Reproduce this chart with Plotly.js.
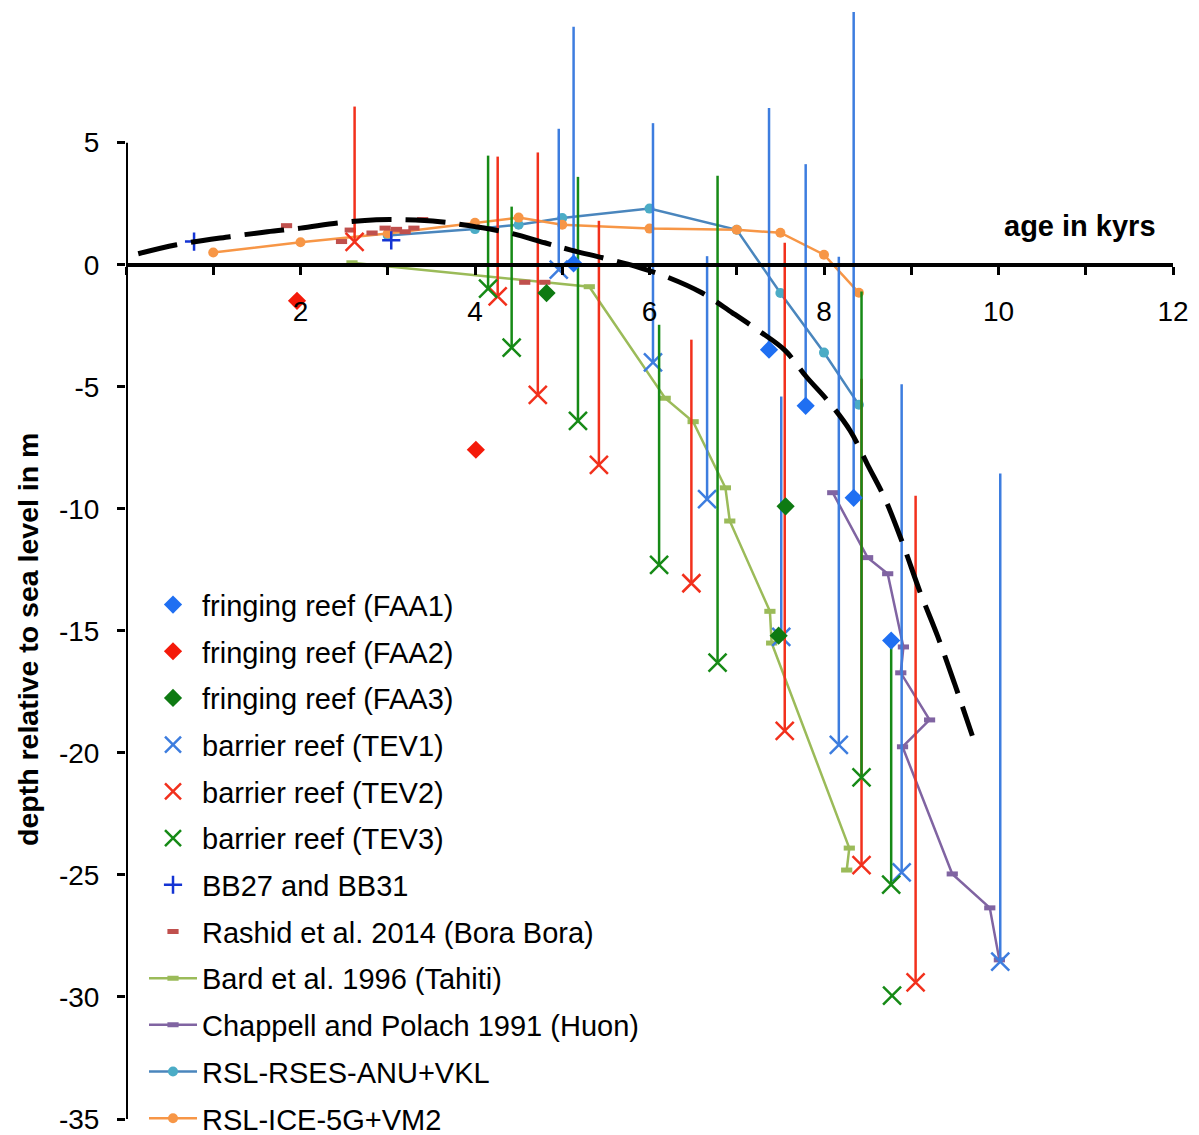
<!DOCTYPE html>
<html><head><meta charset="utf-8">
<script src="https://cdn.plot.ly/plotly-3.0.1.min.js"></script>
<style>html,body{margin:0;padding:0;background:#fff}#chart{width:1199px;height:1135px}</style>
</head><body><div id="chart"></div>
<script>
// ---------- data ----------
const faa1X = [5.13, 7.37, 7.79, 8.34, 8.77];
const faa1Y = [0.05, -3.48, -5.78, -9.55, -15.4];
const faa1Err = [9.7, 9.9, 9.9, 19.9, 0];

const faa2X = [1.96, 4.01];
const faa2Y = [-1.48, -7.58];

const faa3X = [4.82, 7.56, 7.48];
const faa3Y = [-1.16, -9.9, -15.2];

const tev1X = [4.96, 6.04, 6.66, 7.51, 8.17, 8.89, 10.02];
const tev1Y = [-0.2, -4.0, -9.6, -15.25, -19.67, -24.9, -28.55];
const tev1Err = [5.77, 9.8, 9.95, 9.85, 20.0, 20.0, 20.0];

const tev2X = [2.62, 4.26, 4.72, 5.42, 6.48, 7.55, 8.43, 9.05];
const tev2Y = [0.94, -1.3, -5.33, -8.2, -13.05, -19.1, -24.6, -29.4];
const tev2Err = [5.54, 5.73, 9.93, 10.0, 9.98, 20.0, 19.93, 19.93];

const tev3X = [4.15, 4.42, 5.18, 6.11, 6.78, 8.43, 8.77, 8.78];
const tev3Y = [-0.98, -3.4, -6.4, -12.3, -16.3, -21.0, -25.4, -29.95];
const tev3Err = [5.45, 5.78, 10.0, 9.84, 19.95, 19.9, 10.0, 0];

const bbX = [0.78, 3.04];
const bbY = [0.95, 1.0];

const rashidX = [1.84, 2.47, 2.57, 2.82, 2.97, 3.1, 3.2, 3.3, 3.4, 4.57, 4.8];
const rashidY = [1.6, 0.95, 1.42, 1.3, 1.5, 1.45, 1.35, 1.5, 1.85, -0.72, -0.72];

const bardX = [2.59, 5.31, 6.18, 6.5, 6.87, 6.92, 7.38, 7.4, 8.29, 8.26];
const bardY = [0.08, -0.9, -5.47, -6.43, -9.14, -10.5, -14.2, -15.5, -23.9, -24.8];

const chapX = [8.10, 8.50, 8.73, 8.91, 8.88, 9.21, 8.90, 9.47, 9.90, 10.01];
const chapY = [-9.34, -12.0, -12.66, -15.66, -16.72, -18.65, -19.75, -24.96, -26.35, -28.48];

const anuX = [3.0, 4.0, 4.5, 5.0, 6.0, 7.0, 7.5, 8.0, 8.4];
const anuY = [1.2, 1.46, 1.64, 1.91, 2.3, 1.43, -1.16, -3.6, -5.74];

const iceX = [1.0, 2.0, 3.0, 4.0, 4.5, 5.0, 6.0, 7.0, 7.5, 8.0, 8.4];
const iceY = [0.5, 0.92, 1.28, 1.72, 1.93, 1.64, 1.48, 1.43, 1.31, 0.41, -1.15];

const fitX = [0.14, 0.58, 1.19, 1.62, 2.0, 2.45, 2.87, 3.2, 3.6, 4.0, 4.4, 4.8, 5.1, 5.5, 5.85, 6.2, 6.6, 6.95, 7.25, 7.55, 7.8, 8.05, 8.3, 8.5, 8.7, 8.9, 9.1, 9.3, 9.5, 9.7];
const fitY = [0.45, 0.82, 1.15, 1.35, 1.5, 1.72, 1.84, 1.84, 1.76, 1.56, 1.3, 0.9, 0.6, 0.25, -0.08, -0.5, -1.15, -1.97, -2.7, -3.5, -4.6, -5.6, -6.8, -8.2, -9.6, -11.4, -13.4, -15.2, -17.2, -19.3];

const xTickVals = [0,1,2,3,4,5,6,7,8,9,10,11,12];
const xTickText = ['','','2','','4','','6','','8','','10','','12'];
const yTickVals = [5,0,-5,-10,-15,-20,-25,-30,-35];
const yTickText = ['5','0','-5','-10','-15','-20','-25','-30','-35'];

// ---------- traces ----------
const FONT = 'Liberation Sans, Arial, Helvetica, sans-serif';
const zeros = a => a.map(() => 0);

function errSeries(name, x, y, err, color, rank) {
  return {
    type: 'scatter', mode: 'markers', name, x, y, legendrank: rank, legendgroup: 'g' + rank,
    marker: {symbol: 'x-thin-open', size: 18, color, line: {width: 2.5, color}},
    error_y: {type: 'data', symmetric: false, array: err, arrayminus: zeros(err), width: 0, thickness: 2.5, color}
  };
}

const traces = [
  {type:'scatter', mode:'lines+markers', name:'RSL-RSES-ANU+VKL', x:anuX, y:anuY, legendrank:11, legendgroup:'g11',
   line:{color:'#4a86bd', width:2.5}, marker:{symbol:'circle', size:10, color:'#4bacc6'}},
  {type:'scatter', mode:'lines+markers', name:'RSL-ICE-5G+VM2', x:iceX, y:iceY, legendrank:12, legendgroup:'g12',
   line:{color:'#f79646', width:2.5}, marker:{symbol:'circle', size:10, color:'#f79646'}},
  {type:'scatter', mode:'lines+markers', name:'Bard et al. 1996 (Tahiti)', x:bardX, y:bardY, legendrank:9, legendgroup:'g9',
   line:{color:'#9bbb59', width:2.5}, marker:{symbol:'line-ew', size:8, color:'#9bbb59', line:{width:5, color:'#9bbb59'}}},
  {type:'scatter', mode:'lines+markers', name:'Chappell and Polach 1991 (Huon)', x:chapX, y:chapY, legendrank:10, legendgroup:'g10',
   line:{color:'#8064a2', width:2.5}, marker:{symbol:'line-ew', size:8, color:'#8064a2', line:{width:5, color:'#8064a2'}}},
  {type:'scatter', mode:'markers', name:'Rashid et al. 2014 (Bora Bora)', x:rashidX, y:rashidY, legendrank:8, legendgroup:'g8',
   marker:{symbol:'line-ew', size:8, color:'#c0504d', line:{width:5, color:'#c0504d'}}},
  {type:'scatter', mode:'markers', name:'BB27 and BB31', x:bbX, y:bbY, legendrank:7, legendgroup:'g7',
   marker:{symbol:'cross-thin-open', size:13, color:'#1434d4', line:{width:2.5, color:'#1434d4'}}},
  errSeries('barrier reef (TEV1)', tev1X, tev1Y, tev1Err, '#3d7ddf', 4),
  errSeries('barrier reef (TEV2)', tev2X, tev2Y, tev2Err, '#f2301c', 5),
  errSeries('barrier reef (TEV3)', tev3X, tev3Y, tev3Err, '#168a16', 6),
  {type:'scatter', mode:'markers', name:'fringing reef (FAA1)', x:faa1X, y:faa1Y, legendrank:1, legendgroup:'g1',
   marker:{symbol:'diamond', size:14, color:'#1f6ff2'},
   error_y:{type:'data', symmetric:false, array:faa1Err, arrayminus:zeros(faa1Err), width:0, thickness:2.5, color:'#3d7ddf'}},
  {type:'scatter', mode:'markers', name:'fringing reef (FAA2)', x:faa2X, y:faa2Y, legendrank:2, legendgroup:'g2',
   marker:{symbol:'diamond', size:14, color:'#f41a0a'}},
  {type:'scatter', mode:'markers', name:'fringing reef (FAA3)', x:faa3X, y:faa3Y, legendrank:3, legendgroup:'g3',
   marker:{symbol:'diamond', size:14, color:'#0e7a12'}},
  {type:'scatter', mode:'lines', name:'fit', x:fitX, y:fitY, showlegend:false,
   line:{color:'black', width:5, dash:'40px,14px', shape:'spline', smoothing:1}}
];

const yMin = -35, yMax = 10.6;
const layout = {
  width: 1199, height: 1135,
  margin: {l:126, r:26, t:6, b:16, autoexpand: false},
  paper_bgcolor: 'white', plot_bgcolor: 'white',
  font: {family: FONT, size: 28, color: 'black'},
  showlegend: true,
  xaxis: {
    range: [0, 12], anchor: 'free', position: (0 - yMin) / (yMax - yMin), side: 'bottom',
    showline: true, linecolor: 'black', linewidth: 4,
    ticks: 'outside', ticklen: 8, tickwidth: 3, tickcolor: 'black',
    tickmode: 'array', tickvals: xTickVals, ticktext: xTickText, ticklabelstandoff: 13,
    showgrid: false, zeroline: false, automargin: false, tickfont: {size: 28}
  },
  yaxis: {
    range: [yMin, yMax], showline: false,
    ticks: 'outside', ticklen: 8, tickwidth: 3, tickcolor: 'black',
    tickmode: 'array', tickvals: yTickVals, ticktext: yTickText, ticklabelstandoff: 12,
    showgrid: false, zeroline: false, automargin: false, tickfont: {size: 28}
  },
  shapes: [{type:'line', xref:'x', yref:'y', x0:0, x1:0, y0:-35, y1:5, line:{color:'black', width:4}}],
  annotations: [
    {x: 10.93, y: 1.6, xref:'x', yref:'y', text:'<b>age in kyrs</b>', showarrow:false, font:{size:29}},
    {x: (28 - 126) / 1047, y: (1119 - 640) / 1113, xref:'paper', yref:'paper', xanchor:'center', yanchor:'middle',
     textangle: -90, text:'<b>depth relative to sea level in m</b>', showarrow:false, font:{size:28.5}}
  ],
  legend: {x: 0.0172, xanchor: 'left', y: 0.485, yanchor: 'top', bgcolor: 'rgba(0,0,0,0)',
           font: {size: 29}, traceorder: 'grouped', tracegroupgap: 6, itemwidth: 48}
};

Plotly.newPlot('chart', traces, layout, {displayModeBar: false, staticPlot: true});
</script>
</body></html>
